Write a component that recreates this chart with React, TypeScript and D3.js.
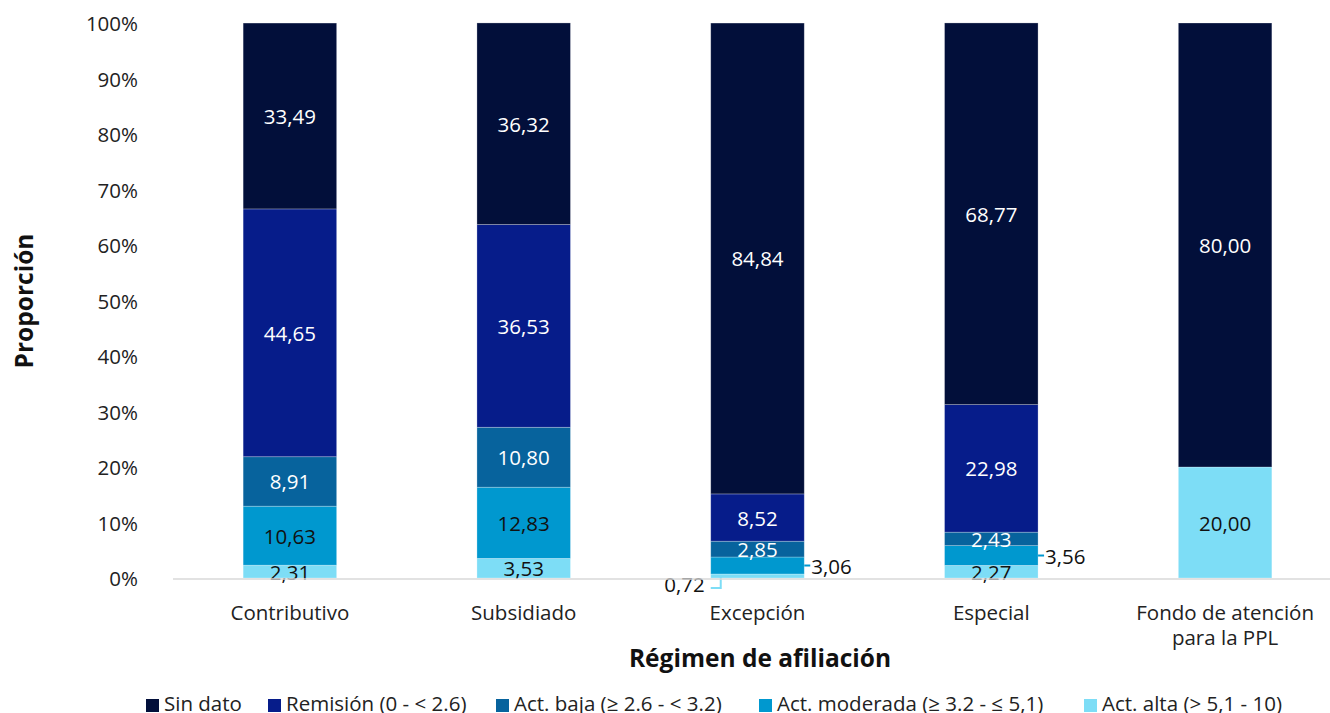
import React from "react";
import * as d3 from "d3";

const categories = ["Contributivo", "Subsidiado", "Excepción", "Especial", "Fondo de atención|para la PPL"];
const seriesNames = [
  "Act. alta (> 5,1 - 10)",
  "Act. moderada (≥ 3.2 - ≤ 5,1)",
  "Act. baja (≥ 2.6 - < 3.2)",
  "Remisión (0 - < 2.6)",
  "Sin dato",
];
const actAlta = [2.31, 3.53, 0.72, 2.27, 20.0];
const actModerada = [10.63, 12.83, 3.06, 3.56, 0];
const actBaja = [8.91, 10.8, 2.85, 2.43, 0];
const remision = [44.65, 36.53, 8.52, 22.98, 0];
const sinDato = [33.49, 36.32, 84.84, 68.77, 80.0];
const yTicks = [0, 10, 20, 30, 40, 50, 60, 70, 80, 90, 100];

const colors = ["#7DDDF6", "#0098CF", "#07639D", "#061C8A", "#020F3A"];
const labelColors = ["#111", "#111", "#fff", "#fff", "#fff"];
const legendOrder = [4, 3, 2, 1, 0];

const W = 1330;
const H = 713;
const FONT = "'Open Sans', Lato, sans-serif";
const FS = 20.5;

export default function App() {
  const series = [actAlta, actModerada, actBaja, remision, sinDato];
  const x = d3.scaleBand().domain(categories).range([173, 1342]).paddingInner(0.6).paddingOuter(0.3);
  const y = d3.scaleLinear().domain([0, 100]).range([578, 23]);
  const bw = x.bandwidth();

  const rows = categories.map((c, i) => {
    const o: any = { cat: c };
    series.forEach((s, k) => (o["s" + k] = s[i]));
    return o;
  });
  const stacked = d3.stack().keys(series.map((_, k) => "s" + k))(rows);

  return (
    <svg width={W} height={H} style={{ display: "block", position: "absolute", left: 0, top: 0 }} fontFamily={FONT}>
      {yTicks.map((t) => (
        <text key={t} x={138} y={y(t)} textAnchor="end" dominantBaseline="central" fontSize={FS} fill="#222">
          {t + "%"}
        </text>
      ))}
      {stacked.map((layer, k) => (
        <g key={k}>
          {layer.map((d, i) => {
            const v = d[1] - d[0];
            if (v <= 0) return null;
            const x0 = x(categories[i])!;
            const yTop = y(d[1]);
            const yBot = y(d[0]);
            const cx = x0 + bw / 2;
            const cy = (yTop + yBot) / 2;
            const txt = d3.format(".2f")(v).replace(".", ",");
            let label;
            if (i === 2 && k === 0) {
              // leader to the lower left
              const lx = x0 + 10;
              label = (
                <g>
                  <polyline points={`${lx},${yBot - 1} ${lx},${yBot + 10} ${x0},${yBot + 10}`} fill="none" stroke={colors[k]} strokeWidth={2} />
                  <text x={x0 - 6} y={yBot + 6} textAnchor="end" dominantBaseline="central" fontSize={FS} fill="#111">{txt}</text>
                </g>
              );
            } else if ((i === 2 || i === 3) && k === 1) {
              label = (
                <g>
                  <line x1={x0 + bw} x2={x0 + bw + 6} y1={cy} y2={cy} stroke={colors[k]} strokeWidth={2} />
                  <text x={x0 + bw + 7} y={cy} dominantBaseline="central" fontSize={FS} fill="#111">{txt}</text>
                </g>
              );
            } else {
              label = (
                <text x={cx} y={cy} textAnchor="middle" dominantBaseline="central" fontSize={FS} fill={labelColors[k]}>{txt}</text>
              );
            }
            return (
              <g key={i}>
                <rect x={x0} y={yTop} width={bw} height={yBot - yTop} fill={colors[k]} stroke="rgba(255,255,255,0.35)" strokeWidth={0.75} />
                {label}
              </g>
            );
          })}
        </g>
      ))}
      <line x1={173} x2={W} y1={y(0) + 1} y2={y(0) + 1} stroke="#d9d9d9" strokeWidth={1.5} />
      {categories.map((c) => {
        const parts = c.split("|");
        return (
          <text key={c} x={x(c)! + bw / 2} y={612} textAnchor="middle" dominantBaseline="central" fontSize={FS} fill="#222">
            {parts.map((p, j) => (
              <tspan key={j} x={x(c)! + bw / 2} dy={j === 0 ? 0 : 25}>{p}</tspan>
            ))}
          </text>
        );
      })}
      <text x={760} y={657} textAnchor="middle" dominantBaseline="central" fontSize={24.5} fontWeight="bold" fill="#111">
        Régimen de afiliación
      </text>
      <text transform={`translate(23,301) rotate(-90)`} textAnchor="middle" dominantBaseline="central" fontSize={24.5} fontWeight="bold" fill="#111">
        Proporción
      </text>
      {legendOrder.map((k, j) => {
        const xs = [146, 268, 496, 759, 1084];
        return (
          <g key={k}>
            <rect x={xs[j]} y={699} width={13} height={13} fill={colors[k]} />
            <text x={xs[j] + 18} y={703} dominantBaseline="central" fontSize={FS} fill="#222">{seriesNames[k]}</text>
          </g>
        );
      })}
    </svg>
  );
}
